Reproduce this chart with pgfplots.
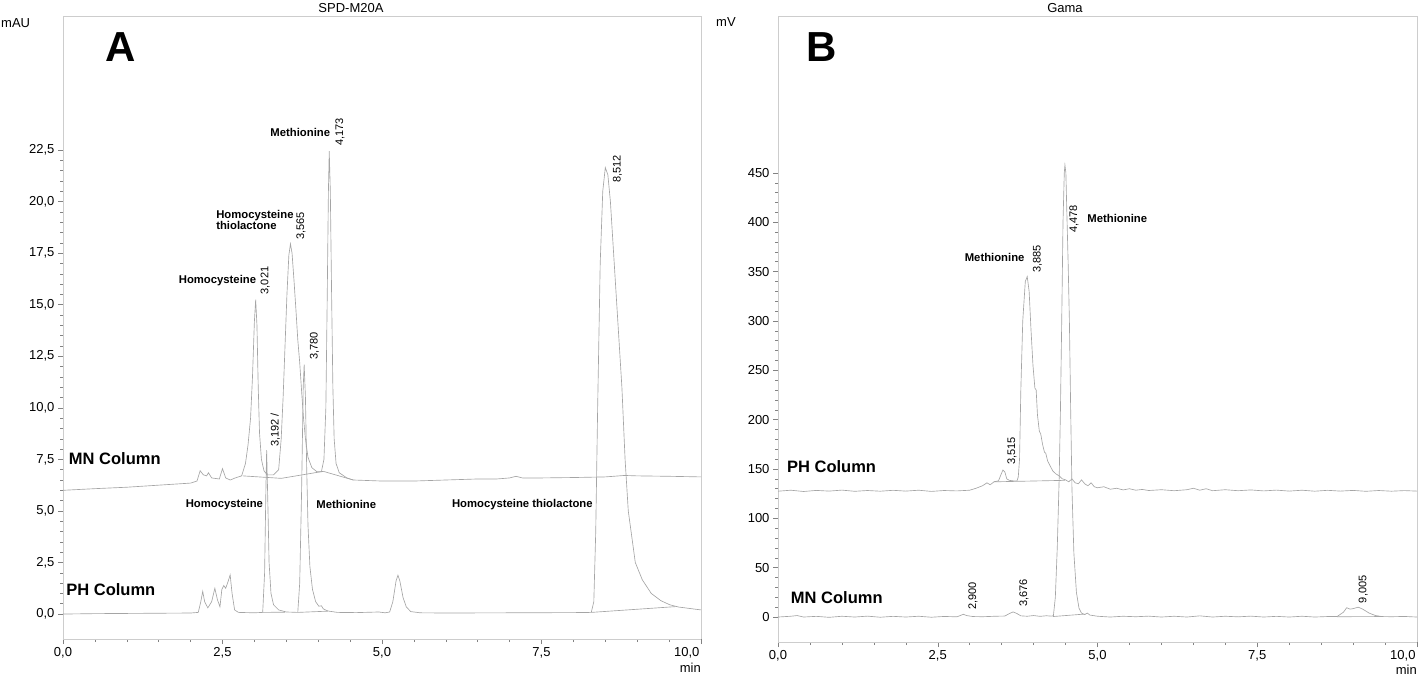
\documentclass[border=0pt]{standalone}
\usepackage{pgfplots}
\pgfplotsset{compat=1.18}
\usepackage{fontspec}
\setmainfont{Liberation Sans}
\definecolor{trace}{RGB}{165,165,165}
\definecolor{frame}{RGB}{205,205,205}
\definecolor{tickc}{RGB}{130,130,130}
\pgfplotsset{
  chrom/.style={
    scale only axis, axis line style={frame, line width=0.9pt},
    xmin=0, xmax=10,
    xtick={0,2.5,5,7.5},
    minor xtick={0.5,1,1.5,2,3,3.5,4,4.5,5.5,6,6.5,7,8,8.5,9,9.5},
    extra x ticks={10},
    extra x tick style={xticklabel style={anchor=north east, xshift=2pt, /pgf/number format/use comma, /pgf/number format/fixed, /pgf/number format/fixed zerofill, /pgf/number format/precision=1, /pgf/number format/assume math mode=true}},
    tick align=outside,
    major tick length=5pt, minor tick length=3pt,
    every tick/.style={tickc, line width=0.5pt},
    tick label style={font=\fontsize{13}{13}\selectfont, black},
    /pgf/number format/assume math mode=true,
    xticklabel style={/pgf/number format/use comma, /pgf/number format/fixed, /pgf/number format/fixed zerofill, /pgf/number format/precision=1},
    xtick pos=left, ytick pos=left,
    clip=false,
  },
}
\tikzset{
  tr/.style={trace, line width=0.65pt},
  lab/.style={font=\bfseries\fontsize{11.3}{12}\selectfont, inner sep=0pt, align=left},
  rt/.style={font=\fontsize{11}{11}\selectfont, rotate=90, anchor=west, inner sep=0pt},
  col/.style={font=\bfseries\fontsize{16.5}{17}\selectfont, anchor=west, inner sep=0pt},
}
\begin{document}
\begin{tikzpicture}
\useasboundingbox (0pt,0pt) rectangle (1418pt,678pt);
% ---------------- Panel A ----------------
\begin{axis}[chrom, at={(63pt,39pt)}, anchor=south west, width=638pt, height=623pt,
  ymin=-1.21, ymax=29.0,
  ytick={0,2.5,...,22.5}, minor y tick num=4,
  yticklabel style={/pgf/number format/use comma, /pgf/number format/fixed, /pgf/number format/fixed zerofill, /pgf/number format/precision=1},
]
% MN column trace
\addplot[tr] coordinates {(0,6.0)(0.5,6.08)(1.0,6.15)(1.5,6.25)(2.0,6.35)(2.1,6.45)(2.15,6.95)(2.2,6.75)(2.25,6.7)(2.28,6.85)(2.33,6.6)(2.45,6.55)(2.5,7.05)(2.55,6.6)(2.62,6.5)(2.7,6.6)(2.8,6.7)(2.86,7.3)(2.9,8.2)(2.94,9.5)(2.97,11.5)(3.0,14.2)(3.02,15.25)(3.04,14.0)(3.06,11.0)(3.08,8.8)(3.11,7.5)(3.15,6.95)(3.2,6.75)(3.3,6.75)(3.38,7.0)(3.42,8.5)(3.45,10.5)(3.48,13.0)(3.51,15.5)(3.54,17.4)(3.565,17.95)(3.59,17.5)(3.62,16.2)(3.65,14.8)(3.68,13.3)(3.71,12.2)(3.74,10.8)(3.77,9.5)(3.8,8.5)(3.84,7.6)(3.9,7.1)(3.98,6.9)(4.05,6.9)(4.09,7.5)(4.12,10.0)(4.14,15.0)(4.16,20.5)(4.173,22.45)(4.19,20.5)(4.21,15.5)(4.23,11.0)(4.25,8.5)(4.28,7.3)(4.33,6.85)(4.45,6.6)(4.55,6.5)(5.0,6.45)(5.5,6.45)(6.0,6.5)(6.5,6.55)(6.8,6.55)(7.0,6.6)(7.1,6.68)(7.2,6.6)(7.5,6.6)(8.0,6.62)(8.5,6.65)(8.8,6.72)(9.0,6.7)(9.5,6.68)(10,6.65)};
\addplot[tr] coordinates {(2.82,6.7)(3.42,6.58)(4.08,6.92)(4.55,6.5)};
% PH column trace
\addplot[tr] coordinates {(0,0.0)(0.5,0.02)(1.0,0.03)(1.5,0.04)(2.0,0.05)(2.12,0.08)(2.16,0.6)(2.19,1.1)(2.22,0.6)(2.27,0.3)(2.33,0.6)(2.38,1.25)(2.42,0.7)(2.46,0.35)(2.49,1.2)(2.52,1.38)(2.55,1.25)(2.59,1.6)(2.62,1.9)(2.65,1.0)(2.69,0.2)(2.75,0.08)(3.0,0.06)(3.13,0.08)(3.16,2.0)(3.18,6.0)(3.192,7.95)(3.21,5.5)(3.23,2.5)(3.26,1.0)(3.3,0.45)(3.38,0.2)(3.5,0.1)(3.68,0.08)(3.71,1.5)(3.74,6.0)(3.765,11.0)(3.78,12.1)(3.8,10.5)(3.82,7.0)(3.84,4.3)(3.87,2.3)(3.91,1.2)(3.96,0.6)(4.01,0.38)(4.05,0.4)(4.08,0.25)(4.15,0.15)(4.3,0.08)(4.6,0.07)(4.95,0.1)(5.05,0.06)(5.12,0.1)(5.17,0.6)(5.22,1.6)(5.25,1.88)(5.28,1.6)(5.33,0.8)(5.38,0.35)(5.45,0.12)(5.6,0.06)(6.0,0.05)(7.0,0.06)(8.0,0.07)(8.28,0.08)(8.32,0.6)(8.35,4.0)(8.38,10.0)(8.42,17.0)(8.46,20.5)(8.5,21.65)(8.54,21.3)(8.58,20.0)(8.64,17.0)(8.7,14.0)(8.76,11.0)(8.81,7.5)(8.86,5.0)(8.97,2.5)(9.08,1.66)(9.22,1.0)(9.37,0.65)(9.51,0.45)(9.65,0.34)(9.85,0.26)(10,0.2)};
\addplot[tr] coordinates {(8.28,0.08)(9.6,0.36)};
\addplot[tr] coordinates {(3.13,0.08)(3.48,0.09)};
\addplot[tr] coordinates {(3.68,0.08)(4.15,0.14)};
% labels
\node[font=\bfseries\fontsize{42}{42}\selectfont, inner sep=0pt] at (axis cs:0.9,27.5) {A};
\node[lab, anchor=east] at (axis cs:4.19,23.35) {Methionine};
\node[rt] at (axis cs:4.34,22.7) {4,173};
\node[rt] at (axis cs:8.69,20.9) {8,512};
\node[lab, anchor=north west] at (axis cs:2.40,19.6) {Homocysteine\\[-1pt]thiolactone};
\node[rt] at (axis cs:3.73,18.15) {3,565};
\node[lab, anchor=east] at (axis cs:3.03,16.17) {Homocysteine};
\node[rt] at (axis cs:3.17,15.5) {3,021};
\node[rt] at (axis cs:3.94,12.33) {3,780};
\node[rt] at (axis cs:3.33,8.1) {3,192 /};
\node[col] at (axis cs:0.09,7.52) {MN Column};
\node[col] at (axis cs:0.05,1.17) {PH Column};
\node[lab] at (axis cs:2.53,5.29) {Homocysteine};
\node[lab] at (axis cs:4.44,5.29) {Methionine};
\node[lab] at (axis cs:7.2,5.29) {Homocysteine thiolactone};
\end{axis}
% ---------------- Panel B ----------------
\begin{axis}[chrom, at={(778pt,36pt)}, anchor=south west, width=639pt, height=626pt,
  ymin=-25.3, ymax=609,
  ytick={0,50,...,450}, minor y tick num=4,
  yticklabel style={/pgf/number format/fixed, /pgf/number format/precision=0},
]
% PH column trace
\addplot[tr] coordinates {(0,127.5)(0.2,128.5)(0.4,127.2)(0.6,128.3)(0.8,127.6)(1.0,128.6)(1.2,127.4)(1.4,128.2)(1.6,127.5)(1.8,128.4)(2.0,127.6)(2.2,128.5)(2.4,127.3)(2.6,128.2)(2.8,127.8)(3.0,128.5)(3.1,130.5)(3.2,133)(3.27,136)(3.32,134)(3.38,137)(3.45,138)(3.5,146)(3.52,149)(3.55,147)(3.58,140)(3.62,138.5)(3.68,138)(3.74,138)(3.76,142)(3.78,160)(3.80,230)(3.83,300)(3.87,340)(3.90,345)(3.93,330)(3.96,290)(3.99,255)(4.02,232)(4.04,230)(4.06,205)(4.09,188)(4.11,186)(4.14,175)(4.17,167)(4.19,166)(4.22,158)(4.26,153)(4.3,148)(4.35,145)(4.4,143)(4.45,140)(4.5,139)(4.55,137)(4.6,140)(4.65,136)(4.7,135)(4.75,139)(4.8,135)(4.85,133)(4.9,136)(4.95,132)(5.0,131)(5.1,132)(5.2,129.5)(5.3,130.5)(5.4,128.8)(5.5,130)(5.6,128.5)(5.7,129.3)(5.8,128.2)(6.0,129)(6.2,128)(6.4,129)(6.5,130.5)(6.6,128.5)(6.7,130)(6.8,128)(7.0,129)(7.2,128)(7.4,128.8)(7.6,127.8)(7.8,128.6)(8.0,127.6)(8.2,128.5)(8.4,127.5)(8.6,128.4)(8.8,127.6)(9.0,128.3)(9.2,127.4)(9.4,128.2)(9.6,127.5)(9.8,128.1)(10,127.6)};
\addplot[tr] coordinates {(3.38,137)(4.49,138.5)};
% MN column trace
\addplot[tr] coordinates {(0,0)(0.2,0.8)(0.3,1.5)(0.4,0)(0.6,0.7)(0.8,-0.3)(1.0,0.8)(1.2,0)(1.4,0.9)(1.6,-0.2)(1.8,0.7)(2.0,0)(2.2,0.8)(2.4,-0.2)(2.6,0.6)(2.8,0.2)(2.9,2.8)(2.95,1.5)(3.05,0.5)(3.2,0.3)(3.4,0.8)(3.55,1.0)(3.62,3.5)(3.68,5.2)(3.74,3.5)(3.8,1.2)(3.9,0.8)(4.0,1.5)(4.1,0.7)(4.2,1.3)(4.28,0.9)(4.31,1.5)(4.34,20)(4.37,70)(4.40,140)(4.42,210)(4.44,300)(4.46,400)(4.48,450)(4.49,458)(4.505,450)(4.52,410)(4.54,360)(4.56,300)(4.58,210)(4.60,130)(4.63,65)(4.67,25)(4.71,9)(4.75,4)(4.80,2.5)(4.84,4)(4.88,2)(5.0,0.8)(5.2,0)(5.4,0.8)(5.6,0.3)(5.8,0.9)(6.0,0)(6.2,0.8)(6.4,0)(6.6,1.2)(6.8,0)(7.0,0.8)(7.2,0.2)(7.4,0.9)(7.6,0)(7.8,0.7)(8.0,0)(8.2,0.8)(8.4,0)(8.6,0.5)(8.75,0.5)(8.85,5)(8.9,9.5)(8.95,8)(9.0,8.5)(9.08,10)(9.15,8)(9.25,4)(9.35,1.5)(9.45,0.5)(9.6,0.3)(9.8,0.6)(10,0)};
\addplot[tr] coordinates {(4.3,0.5)(4.8,3.0)};
\addplot[tr] coordinates {(8.75,0.3)(9.45,0.5)};
% labels
\node[font=\bfseries\fontsize{42}{42}\selectfont, inner sep=0pt] at (axis cs:0.68,577.5) {B};
\node[rt] at (axis cs:4.63,389) {4,478};
\node[lab, anchor=west] at (axis cs:4.84,404) {Methionine};
\node[lab, anchor=east] at (axis cs:3.86,364) {Methionine};
\node[rt] at (axis cs:4.06,348.5) {3,885};
\node[rt] at (axis cs:3.66,154) {3,515};
\node[col] at (axis cs:0.14,152) {PH Column};
\node[col] at (axis cs:0.20,19.6) {MN Column};
\node[rt] at (axis cs:3.05,7.1) {2,900};
\node[rt] at (axis cs:3.85,10.1) {3,676};
\node[rt] at (axis cs:9.16,14) {9,005};
\end{axis}
% titles and units
\node[font=\fontsize{13}{13}\selectfont, inner sep=0pt] at (351pt,670pt) {SPD-M20A};
\node[font=\fontsize{13}{13}\selectfont, inner sep=0pt] at (1065pt,670pt) {Gama};
\node[font=\fontsize{13}{13}\selectfont, inner sep=0pt, anchor=west] at (1pt,655pt) {mAU};
\node[font=\fontsize{13}{13}\selectfont, inner sep=0pt, anchor=west] at (716pt,656pt) {mV};
\node[font=\fontsize{13}{13}\selectfont, inner sep=0pt, anchor=east] at (701pt,10pt) {min};
\node[font=\fontsize{13}{13}\selectfont, inner sep=0pt, anchor=east] at (1417pt,8pt) {min};
\end{tikzpicture}
\end{document}
